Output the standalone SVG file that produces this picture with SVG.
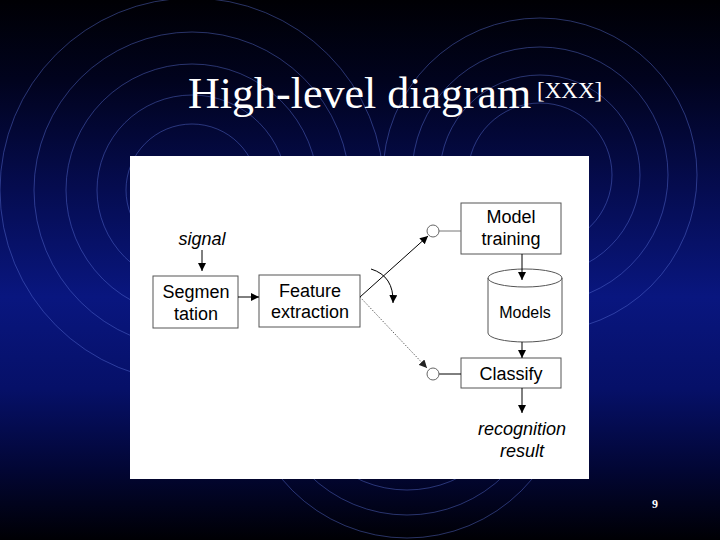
<svg xmlns="http://www.w3.org/2000/svg" width="720" height="540" viewBox="0 0 720 540">
<defs>
<linearGradient id="bg" x1="0" y1="0" x2="0" y2="1">
<stop offset="0" stop-color="#000004"/>
<stop offset="0.15" stop-color="#01031e"/>
<stop offset="0.35" stop-color="#050c50"/>
<stop offset="0.55" stop-color="#09167f"/>
<stop offset="0.72" stop-color="#061068"/>
<stop offset="0.87" stop-color="#020634"/>
<stop offset="1" stop-color="#000004"/>
</linearGradient>
<marker id="ah" viewBox="0 0 10 10" refX="10" refY="5" markerWidth="8" markerHeight="8" markerUnits="userSpaceOnUse" orient="auto">
<path d="M0,0 L10,5 L0,10 Z" fill="#000"/>
</marker>
<marker id="ahg" viewBox="0 0 10 10" refX="10" refY="5" markerWidth="8" markerHeight="8" markerUnits="userSpaceOnUse" orient="auto">
<path d="M0,0 L10,5 L0,10 Z" fill="#222"/>
</marker>
</defs>
<style>
.ring{fill:none;stroke:#5a70d8;stroke-opacity:0.45;stroke-width:1}
.box{fill:#fff;stroke:#555;stroke-width:1}
.lbl{font-family:"Liberation Sans",Arial,sans-serif;font-size:18px;fill:#000;text-anchor:middle}
.it{font-style:italic}
.ln{fill:none;stroke:#000;stroke-width:1}
</style>
<rect x="0" y="0" width="720" height="540" fill="url(#bg)"/>
<g id="background-rings">
<circle class="ring" cx="192" cy="190" r="66"/>
<circle class="ring" cx="192" cy="190" r="95"/>
<circle class="ring" cx="192" cy="190" r="126"/>
<circle class="ring" cx="192" cy="190" r="158"/>
<circle class="ring" cx="192" cy="190" r="192"/>
<circle class="ring" cx="540" cy="175" r="72"/>
<circle class="ring" cx="540" cy="175" r="100"/>
<circle class="ring" cx="540" cy="175" r="128"/>
<circle class="ring" cx="540" cy="175" r="157"/>
<circle class="ring" cx="407" cy="376" r="114"/>
<circle class="ring" cx="407" cy="376" r="139"/>
<circle class="ring" cx="407" cy="376" r="162"/>
</g>
<g id="title">
<text x="188" y="108" font-family="Liberation Serif,'Times New Roman',serif" font-size="44" fill="#fff">High-level diagram</text>
<text x="537" y="98" font-family="Liberation Serif,'Times New Roman',serif" font-size="23" fill="#fff">[XXX]</text>
</g>
<rect id="panel" x="130" y="156" width="459" height="323" fill="#fff"/>
<g id="signal"><text class="lbl it" x="202" y="245">signal</text></g>
<g id="segmentation">
<rect class="box" x="153" y="276" width="85" height="52"/>
<text class="lbl" x="196" y="298">Segmen</text>
<text class="lbl" x="196" y="320">tation</text>
</g>
<g id="feature-extraction">
<rect class="box" x="259" y="275" width="101" height="52"/>
<text class="lbl" x="310" y="297">Feature</text>
<text class="lbl" x="310" y="318">extraction</text>
</g>
<g id="model-training">
<rect class="box" x="461" y="203" width="100" height="51"/>
<text class="lbl" x="511" y="223">Model</text>
<text class="lbl" x="511" y="245">training</text>
</g>
<g id="models">
<path d="M488,278 A37,9 0 0 1 562,278 L562,333 A37,9 0 0 1 488,333 Z" fill="#fff" stroke="#555" stroke-width="1"/>
<path d="M488,278 A37,9 0 0 0 562,278" fill="none" stroke="#555" stroke-width="1"/>
<text class="lbl" x="525" y="318" style="font-size:16px">Models</text>
</g>
<g id="classify">
<rect class="box" x="461" y="358" width="100" height="30"/>
<text class="lbl" x="511" y="380">Classify</text>
</g>
<g id="result">
<text class="lbl it" x="522" y="435">recognition</text>
<text class="lbl it" x="522" y="457">result</text>
</g>
<g id="connectors">
<line class="ln" x1="202" y1="250" x2="202" y2="271" marker-end="url(#ah)"/>
<line class="ln" x1="238" y1="297" x2="259" y2="297" marker-end="url(#ah)"/>
<line class="ln" x1="360" y1="297" x2="428" y2="236" marker-end="url(#ah)"/>
<line x1="360" y1="297" x2="427" y2="368" stroke="#666" stroke-width="1" stroke-dasharray="1.5,1.5" marker-end="url(#ahg)"/>
<path class="ln" d="M371,269 Q394,276 393,303" marker-end="url(#ah)"/>
<line x1="439" y1="231" x2="461" y2="231" stroke="#777" stroke-width="1"/>
<line x1="439" y1="374" x2="461" y2="374" stroke="#000" stroke-width="1"/>
<line class="ln" x1="522" y1="254" x2="522" y2="280" marker-end="url(#ah)"/>
<line class="ln" x1="522" y1="342" x2="522" y2="358" marker-end="url(#ah)"/>
<line class="ln" x1="522" y1="388" x2="522" y2="413" marker-end="url(#ah)"/>
</g>
<g id="switch-top"><circle cx="433" cy="231" r="6" fill="#fff" stroke="#666" stroke-width="1"/></g>
<g id="switch-bottom"><circle cx="433" cy="374" r="6" fill="#fff" stroke="#666" stroke-width="1"/></g>
<text x="655" y="508" font-family="Liberation Serif,'Times New Roman',serif" font-size="12" font-weight="bold" fill="#fff" text-anchor="middle">9</text>
</svg>
